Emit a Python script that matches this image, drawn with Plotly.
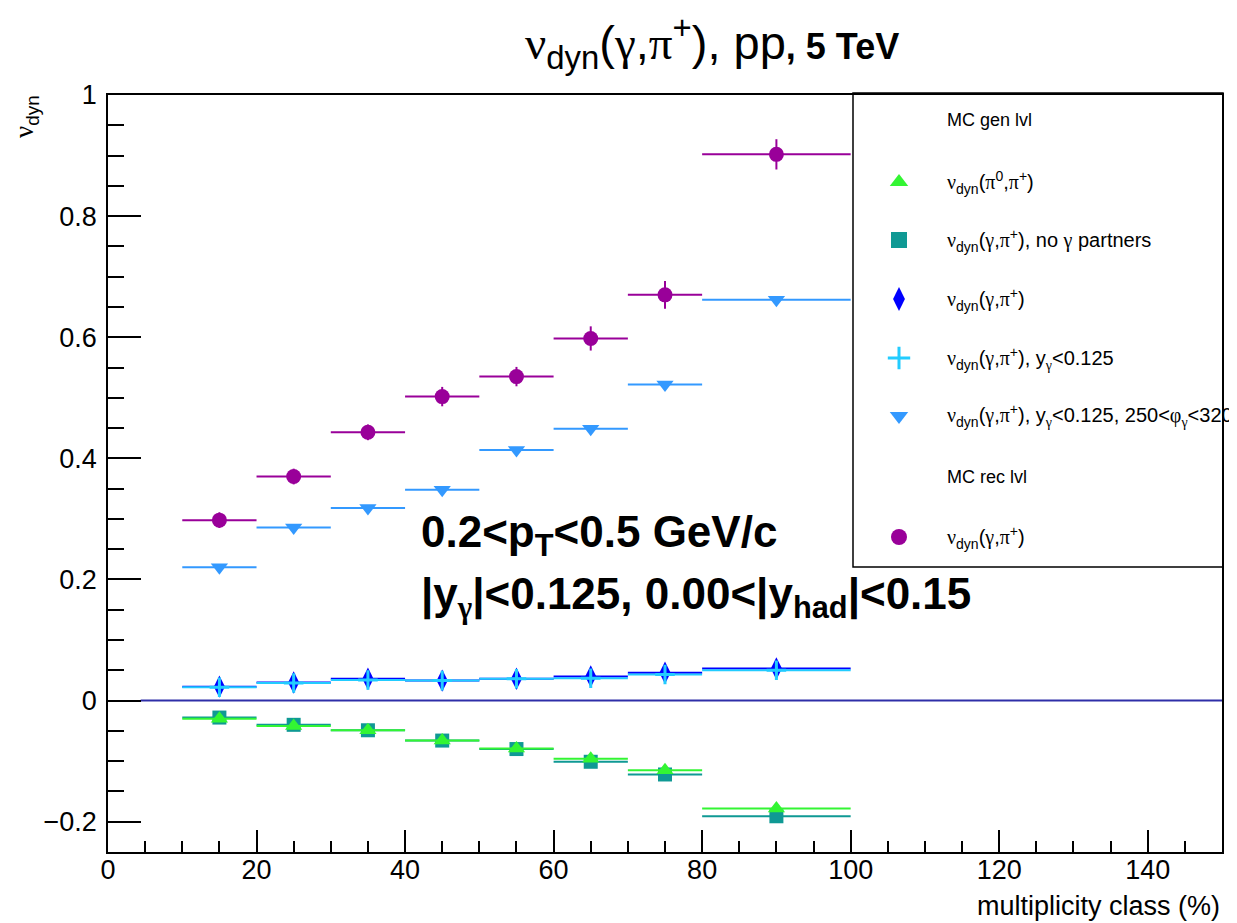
import plotly.graph_objects as go

# ---------------- data ----------------
mult_centers = [15, 25, 35, 45, 55, 65, 75, 90]
mult_halfwidth = [5, 5, 5, 5, 5, 5, 5, 10]

nu_pi0_pip = [-0.030, -0.042, -0.049, -0.066, -0.079, -0.096, -0.115, -0.178]
nu_gam_pip_nopartner = [-0.028, -0.040, -0.049, -0.066, -0.080, -0.101, -0.122, -0.191]
nu_gam_pip = [0.023, 0.030, 0.036, 0.033, 0.036, 0.040, 0.046, 0.053]
nu_gam_pip_ycut = [0.022, 0.029, 0.034, 0.033, 0.036, 0.037, 0.043, 0.050]
nu_gam_pip_ycut_phicut = [0.220, 0.286, 0.318, 0.348, 0.414, 0.449, 0.522, 0.662]
nu_gam_pip_rec = [0.298, 0.370, 0.443, 0.502, 0.535, 0.598, 0.670, 0.902]

err_small = [0.004, 0.004, 0.004, 0.004, 0.004, 0.005, 0.005, 0.006]
err_gam_pip = [0.012, 0.012, 0.012, 0.012, 0.012, 0.012, 0.012, 0.012]
err_rec = [0.013, 0.013, 0.013, 0.016, 0.016, 0.020, 0.023, 0.025]

x_ticks = [0, 20, 40, 60, 80, 100, 120, 140]

# ---------------- styles ----------------
C_GREEN = "#33f533"
C_TEAL = "#0f9994"
C_BLUE = "#0000ff"
C_CYAN = "#22ccff"
C_AZURE = "#3399ff"
C_PURPLE = "#990099"

SANS = "Liberation Sans, Arial, sans-serif"
SERIF = "Liberation Serif, Times New Roman, serif"


def gk(s):
    return f'<span style="font-family:{SERIF}">{s}</span>'


NU = gk("ν")
GAM = gk("γ")
PI = gk("π")
PHI = gk("φ")

series = [
    ("teal", nu_gam_pip_nopartner, err_small, C_TEAL, "square", 14),
    ("green", nu_pi0_pip, err_small, C_GREEN, "triangle-up", 15),
    ("blue", nu_gam_pip, err_gam_pip, C_BLUE, "diamond-tall", 16),
    ("cyan", nu_gam_pip_ycut, err_small, C_CYAN, "cross-thin", 14),
    ("azure", nu_gam_pip_ycut_phicut, err_small, C_AZURE, "triangle-down", 15),
    ("purple", nu_gam_pip_rec, err_rec, C_PURPLE, "circle", 15),
]

fig = go.Figure()

for name, yv, ye, col, sym, sz in series:
    marker = dict(symbol=sym, size=sz, color=col, line=dict(width=0))
    if sym == "cross-thin":
        marker = dict(symbol=sym, size=sz, color=col, line=dict(width=3, color=col))
    fig.add_trace(go.Scatter(
        x=mult_centers, y=yv, mode="markers", name=name, showlegend=False,
        marker=marker,
        error_x=dict(type="data", array=mult_halfwidth, width=0, thickness=2, color=col),
        error_y=dict(type="data", array=ye, width=0, thickness=2, color=col),
        cliponaxis=False,
    ))

# zero line
fig.add_shape(type="line", xref="x", yref="y", x0=4.4, x1=150, y0=0, y1=0,
              line=dict(color="#2e2ea8", width=2), layer="below")

# ---------------- geometry (reference pixel frame) ----------------
W, H = 1237, 923
OFF = 8  # page body margin offset
FL, FR, FT, FB = 108, 1222, 95, 852   # frame edges in page pixels
PW, PH = FR - FL, FB - FT


def px2paper_x(px):
    return (px - FL) / PW


def px2paper_y(py):
    return (FB - py) / PH


fig.add_shape(type="rect", xref="paper", yref="paper",
              x0=px2paper_x(853), x1=px2paper_x(1223),
              y0=px2paper_y(567), y1=px2paper_y(93),
              line=dict(color="black", width=1.5), fillcolor="rgba(0,0,0,0)", layer="above")

legend_rows = [
    (120, "MC gen lvl", None, None, None),
    (182, f"{NU}<sub>dyn</sub>({PI}<sup>0</sup>,{PI}<sup>+</sup>)", C_GREEN, "triangle-up", 16),
    (240, f"{NU}<sub>dyn</sub>({GAM},{PI}<sup>+</sup>), no {GAM} partners", C_TEAL, "square", 16),
    (299, f"{NU}<sub>dyn</sub>({GAM},{PI}<sup>+</sup>)", C_BLUE, "diamond-tall", 17),
    (358, f"{NU}<sub>dyn</sub>({GAM},{PI}<sup>+</sup>), y<sub>{GAM}</sub>&lt;0.125", C_CYAN, "cross-thin", 16),
    (416, f"{NU}<sub>dyn</sub>({GAM},{PI}<sup>+</sup>), y<sub>{GAM}</sub>&lt;0.125, 250&lt;{PHI}<sub>{GAM}</sub>&lt;320",
     C_AZURE, "triangle-down", 16),
    (477, "MC rec lvl", None, None, None),
    (537, f"{NU}<sub>dyn</sub>({GAM},{PI}<sup>+</sup>)", C_PURPLE, "circle", 16),
]

for py, txt, col, sym, sz in legend_rows:
    fsize = 18 if col is None else 20
    fig.add_annotation(xref="paper", yref="paper", x=px2paper_x(945), y=px2paper_y(py),
                       xanchor="left", yanchor="middle", text=txt, showarrow=False,
                       font=dict(family=SANS, size=fsize, color="black"))
    if col is not None:
        mk = dict(symbol=sym, size=sz, color=col, line=dict(width=0))
        if sym == "cross-thin":
            mk = dict(symbol=sym, size=sz, color=col, line=dict(width=3, color=col))
        fig.add_trace(go.Scatter(x=[px2paper_x(899)], y=[px2paper_y(py)], mode="markers",
                                 marker=mk, xaxis="x2", yaxis="y2", showlegend=False,
                                 hoverinfo="skip", cliponaxis=False))

# ---------------- text ----------------
fig.add_annotation(xref="paper", yref="paper", x=px2paper_x(419), y=px2paper_y(535),
                   xanchor="left", yanchor="middle", showarrow=False,
                   text="<b>0.2&lt;p<sub>T</sub>&lt;0.5 GeV/c</b>",
                   font=dict(family=SANS, size=44, color="black"))
fig.add_annotation(xref="paper", yref="paper", x=px2paper_x(419), y=px2paper_y(597),
                   xanchor="left", yanchor="middle", showarrow=False,
                   text=f"<b>|y<sub>{GAM}</sub>|&lt;0.125, 0.00&lt;|y<sub>had</sub>|&lt;0.15</b>",
                   font=dict(family=SANS, size=44, color="black"))

# y title
fig.add_annotation(xref="paper", yref="paper", x=px2paper_x(26), y=px2paper_y(117),
                   xanchor="center", yanchor="middle", showarrow=False, textangle=-90,
                   text=f"{NU}<sub>dyn</sub>", font=dict(family=SANS, size=27, color="black"))
# x title
fig.add_annotation(xref="paper", yref="paper", x=1.0, y=px2paper_y(906),
                   xanchor="right", yanchor="middle", showarrow=False,
                   text="multiplicity class (%)", font=dict(family=SANS, size=27, color="black"))

# title
fig.add_annotation(xref="paper", yref="paper", x=px2paper_x(523), y=px2paper_y(42),
                   xanchor="left", yanchor="middle", showarrow=False,
                   text=(f"{NU}<sub>dyn</sub>({GAM},{PI}<sup>+</sup>), pp"
                         f"<span style=\"font-size:36px\"><b>, 5 TeV</b></span>"),
                   font=dict(family=SANS, size=47, color="black"))

axis_common = dict(showgrid=False, zeroline=False, showline=True, linecolor="black",
                   linewidth=1.5, mirror=True, ticks="inside", tickcolor="black",
                   tickwidth=1.5, tickfont=dict(family=SANS, size=27, color="black"))

fig.update_layout(
    width=W - OFF, height=H - OFF,
    margin=dict(l=FL - OFF, r=W - FR, t=FT - OFF, b=H - FB, pad=0),
    paper_bgcolor="white", plot_bgcolor="white",
    showlegend=False,
    xaxis=dict(range=[0, 150], tickvals=x_ticks, ticklen=22,
               minor=dict(dtick=5, tick0=0, ticks="inside", ticklen=11, tickcolor="black", tickwidth=1.5),
               ticklabelstandoff=-7, **axis_common),
    yaxis=dict(range=[-0.25, 1.0], tick0=0, dtick=0.2, ticklen=33,
               minor=dict(dtick=0.05, tick0=0, ticks="inside", ticklen=16, tickcolor="black", tickwidth=1.5),
               ticklabelstandoff=4, **axis_common),
    xaxis2=dict(overlaying="x", range=[0, 1], visible=False),
    yaxis2=dict(overlaying="y", range=[0, 1], visible=False),
)

fig.write_html("out.html")
